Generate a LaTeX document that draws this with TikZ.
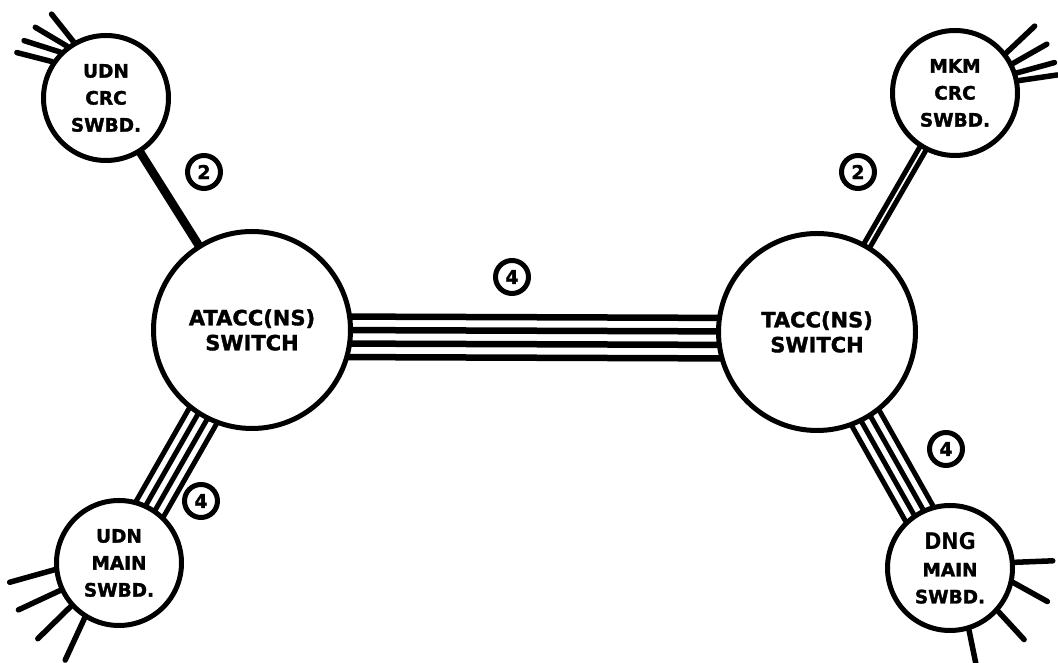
\documentclass[tikz,border=0pt]{standalone}
\usepackage{fontspec}
\setmainfont{DejaVu Sans}
\newfontfamily\heavy{DejaVu Sans Bold}[FakeBold=1.6]
\newfontfamily\hand{DejaVu Sans Condensed Bold}
\usetikzlibrary{calc,backgrounds}
\tikzset{
  switchc/.style={circle,draw,fill=white,line width=5pt,minimum size=197pt,inner sep=0pt,align=center,
    font=\heavy\fontsize{21}{25}\selectfont},
  swbdc/.style={circle,draw,fill=white,line width=5pt,minimum size=#1,inner sep=0pt,align=center,
    font=\heavy\fontsize{18.5}{27}\selectfont},
  swbdc/.default=125pt,
  numc/.style={circle,draw,fill=white,line width=5pt,minimum size=33pt,inner sep=0pt,
    font=\heavy\fontsize{19}{19}\selectfont},
  trunk/.style={line width=6.5pt},
  pair/.style={line width=5pt},
  stub/.style={line width=5.5pt,line cap=round}
}

\begin{document}
\begin{tikzpicture}[x=1pt,y=1pt]
  \useasboundingbox (0,0) rectangle (1058,663);

  % switches
  \node[switchc] (atacc) at (252,333) {ATACC(NS)\\SWITCH};
  \node[switchc] (tacc) at (817,331) {TACC(NS)\\SWITCH};

  % switchboards
  \node[swbdc] (udncrc) at (106,565) {UDN\\CRC\\SWBD.};
  \node[swbdc] (mkmcrc) at (955,570) {MKM\\CRC\\SWBD.};
  \node[swbdc] (udnmain) at (119,100) {UDN\\MAIN\\SWBD.};
  \node[swbdc] (dngmain) at (950,95) {{\hand\fontsize{23}{23}\selectfont DNG}\\MAIN\\SWBD.};

  % circuit counts
  \node[numc] (n2l) at (204,491) {2};
  \node[numc] (n2r) at (858,491) {2};
  \node[numc] (n4m) at (512,386) {4};
  \node[numc] (n4l) at (201,162) {4};
  \node[numc] (n4r) at (946,214) {4};

  % trunks
  \begin{scope}[on background layer]
    \foreach \o in {-26.75,-13.25,0.25,13.75}
      \draw[trunk] ([yshift=\o pt]atacc.center) -- ([yshift=\o pt]tacc.center);
    \foreach \o in {-15.75,-5.25,5.25,15.75} {
      \draw[pair] ($(udnmain.center)!\o pt!90:(atacc.center)$) -- ($(atacc.center)!\o pt!-90:(udnmain.center)$);
      \draw[pair] ($(tacc.center)!\o pt!90:(dngmain.center)$) -- ($(dngmain.center)!\o pt!-90:(tacc.center)$);
    }
    \foreach \o in {-1.8,1.8}
      \draw[pair] ($(udncrc.center)!\o pt!90:(atacc.center)$) -- ($(atacc.center)!\o pt!-90:(udncrc.center)$);
    \foreach \o in {-3.5,3.5}
      \draw[pair] ($(tacc.center)!\o pt!90:(mkmcrc.center)$) -- ($(mkmcrc.center)!\o pt!-90:(tacc.center)$);
  \end{scope}

  % outside lines
  \foreach \a/\b in {120/123,127/135,135/145,146/153}
    \draw[stub] (udncrc.\a) -- ($(udncrc.center)+(\b:100)$);
  \foreach \a/\b in {38/40,27/28,18/17,11/10}
    \draw[stub] (mkmcrc.\a) -- ($(mkmcrc.center)+(\b:104)$);
  \foreach \a/\b in {186/190,205/205,222/223,238/241}
    \draw[stub] (udnmain.\a) -- ($(udnmain.center)+(\b:111)$);
  \foreach \a/\b in {5/4,-13/-19,-42/-44,-73/-75}
    \draw[stub] (dngmain.\a) -- ($(dngmain.center)+(\b:103)$);
\end{tikzpicture}
\end{document}
